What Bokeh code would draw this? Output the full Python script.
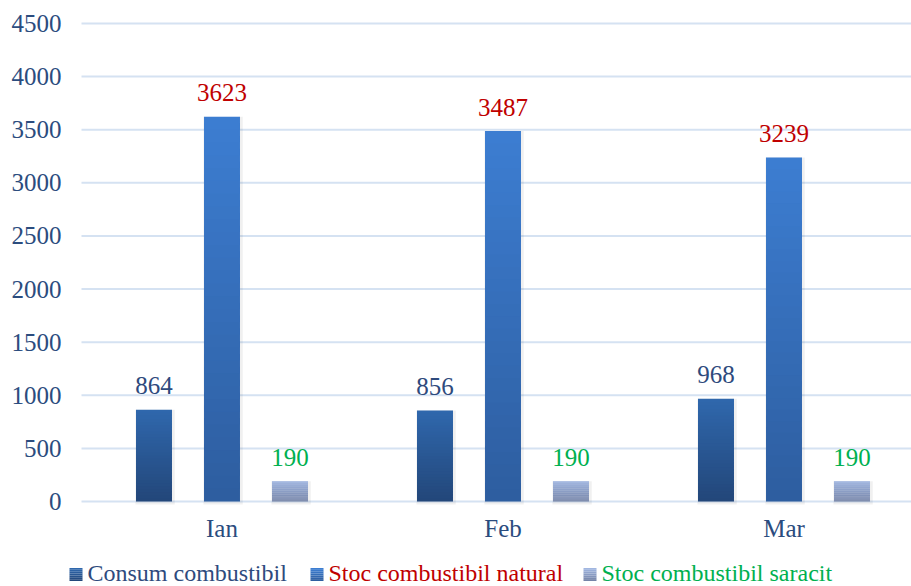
import numpy as np
from bokeh.plotting import figure
from bokeh.models import ColumnDataSource, Range1d
from bokeh.core.properties import value
from bokeh.embed import file_html
from bokeh.resources import INLINE

# ---- data ----
categories = ["Ian", "Feb", "Mar"]
consum = [864, 856, 968]
stoc_natural = [3623, 3487, 3239]
stoc_saracit = [190, 190, 190]
series_names = ["Consum combustibil", "Stoc combustibil natural", "Stoc combustibil saracit"]
y_ticks = [0, 500, 1000, 1500, 2000, 2500, 3000, 3500, 4000, 4500]

series_values = [consum, stoc_natural, stoc_saracit]
offsets = [-0.242, 0.0, 0.242]
grad_top = ["#2F67AC", "#3C7DD1", "#A1B6E0"]
grad_bot = ["#23477A", "#2E5EA0", "#7584A8"]
label_colors = ["#2E4A7D", "#C00000", "#00B050"]
legend_colors = ["#2E4A7D", "#C00000", "#00B050"]
AXIS_COLOR = "#2B4C7E"
FONT = "Liberation Serif"
BAR_W = 0.128

# ---- layout constants (pixel geometry of the plotting area) ----
W, H = 911, 586
PLOT_LEFT, PLOT_TOP, PLOT_BOTTOM = 81, 23, 501
CAT_PX = 281.0
Y_MAX = 4500.0


def xd(px):
    return -0.5 + (px - PLOT_LEFT) / CAT_PX


def yd(py):
    return (PLOT_BOTTOM - py) * Y_MAX / (PLOT_BOTTOM - PLOT_TOP)


def hex2rgb(h):
    h = h.lstrip("#")
    return np.array([int(h[i:i + 2], 16) for i in (0, 2, 4)], dtype=float)


def mix(c1, c2, t):
    a, b = hex2rgb(c1), hex2rgb(c2)
    c = a * (1 - t) + b * t
    return "#%02x%02x%02x" % tuple(int(round(v)) for v in c)


p = figure(width=W, height=H, output_backend="svg", toolbar_location=None,
           x_range=Range1d(xd(0), xd(W)), y_range=Range1d(yd(H), yd(0)),
           min_border=0, min_border_left=0, min_border_right=0,
           min_border_top=0, min_border_bottom=0)
p.axis.visible = False
p.grid.visible = False
p.outline_line_color = None
p.background_fill_color = "white"
p.border_fill_color = "white"

# horizontal gridlines at the value ticks
p.segment(x0=[xd(PLOT_LEFT)] * len(y_ticks), x1=[xd(W)] * len(y_ticks),
          y0=y_ticks, y1=y_ticks, line_color="#D5E2F2", line_width=2)

# y tick labels
p.text(x=[xd(61)] * len(y_ticks), y=y_ticks, text=[str(t) for t in y_ticks],
       text_align="right", text_baseline="middle", text_font=value(FONT),
       text_font_size="25px", text_color=AXIS_COLOR)

# category labels
p.text(x=list(range(len(categories))), y=[yd(528)] * len(categories), text=categories,
       text_align="center", text_baseline="middle", text_font=value(FONT),
       text_font_size="25px", text_color=AXIS_COLOR)

# soft shadow under each bar
for si, vals in enumerate(series_values):
    ssrc = ColumnDataSource(dict(x=[ci + offsets[si] + 0.004 for ci in range(len(vals))],
                                 top=vals))
    p.vbar(x="x", top="top", bottom=yd(PLOT_BOTTOM + 3), width=BAR_W + 0.012, source=ssrc,
           fill_color="#000000", fill_alpha=0.06, line_color=None)

# gradient bars built as stacked slices of each value
N = 30
for si, vals in enumerate(series_values):
    xs, bots, tops, cols = [], [], [], []
    for ci, v in enumerate(vals):
        for k in range(N):
            xs.append(ci + offsets[si])
            bots.append(v * k / N)
            tops.append(min(v, v * (k + 1.5) / N))
            cols.append(mix(grad_bot[si], grad_top[si], k / (N - 1)))
    src = ColumnDataSource(dict(x=xs, bottom=bots, top=tops, color=cols))
    p.vbar(x="x", bottom="bottom", top="top", width=BAR_W, source=src,
           fill_color="color", line_color=None)
    lsrc = ColumnDataSource(dict(x=[ci + offsets[si] for ci in range(len(vals))],
                                 y=vals, t=[str(v) for v in vals]))
    p.text(x="x", y="y", text="t", source=lsrc, text_align="center",
           text_baseline="middle", y_offset=-24, text_font=value(FONT),
           text_font_size="25px", text_color=label_colors[si])

# legend along the bottom, each text in its own colour
leg_px = [69, 310, 583]
leg_py = 574
SQ = 13
M = 7
for si, name in enumerate(series_names):
    rx, rb, rt, rc = [], [], [], []
    for k in range(M):
        rx.append(xd(leg_px[si] + SQ / 2))
        rb.append(yd(leg_py + SQ / 2 - SQ * k / M))
        rt.append(yd(leg_py + SQ / 2 - SQ * (k + 1) / M))
        rc.append(mix(grad_bot[si], grad_top[si], k / (M - 1)))
    p.vbar(x=rx, bottom=rb, top=rt, width=SQ / CAT_PX, fill_color=rc, line_color=None)
    p.text(x=[xd(leg_px[si] + SQ + 5)], y=[yd(leg_py - 2)], text=[name], text_align="left",
           text_baseline="middle", text_font=value(FONT), text_font_size="24px",
           text_color=legend_colors[si])

open("out.html", "w").write(file_html(p, INLINE))
